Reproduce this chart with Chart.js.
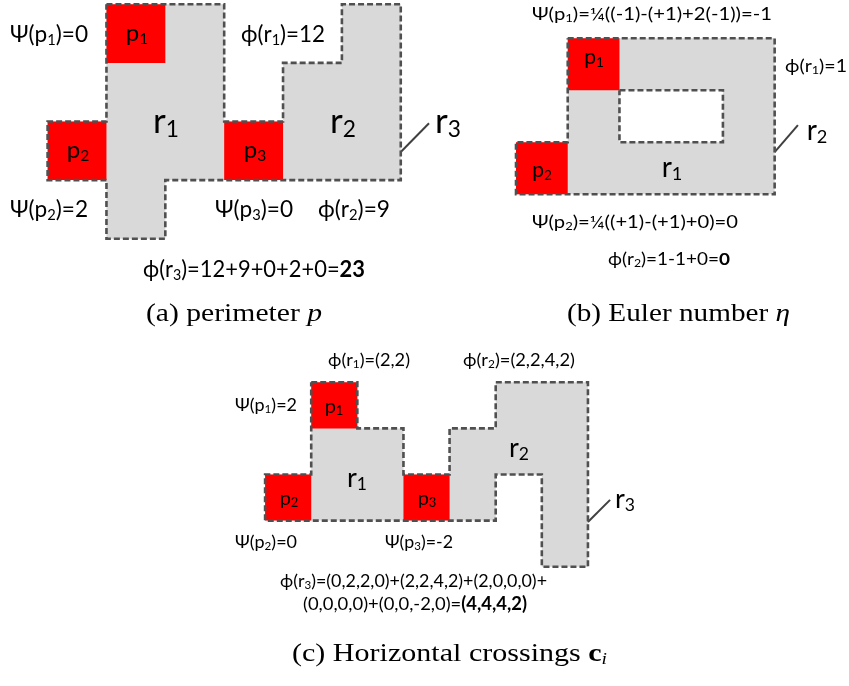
<!DOCTYPE html>
<html>
<head>
<meta charset="utf-8">
<script src="https://cdn.jsdelivr.net/npm/chart.js@4.4.1/dist/chart.umd.min.js"></script>
<style>
  html, body { margin: 0; padding: 0; background: #ffffff; }
  canvas { display: block; }
</style>
</head>
<body>
<canvas id="fig" width="849" height="686"></canvas>
<script>
// ---------------------------------------------------------------------------
// Regions, in grid cells (column, row) of each panel's pixel grid
// ---------------------------------------------------------------------------
// (a) perimeter
const regionA = [[1,0],[3,0],[3,2],[4,2],[4,1],[5,1],[5,0],[6,0],[6,3],[2,3],[2,4],[1,4],[1,3],[0,3],[0,2],[1,2],[1,0]];
const pixelsA = [[1,0],[0,2],[3,2]];          // top-left cell of p1, p2, p3
// (b) Euler number
const regionB = [[1,0],[5,0],[5,3],[0,3],[0,2],[1,2],[1,0]];
const holeB   = [[2,1],[4,1],[4,2],[2,2],[2,1]];
const pixelsB = [[1,0],[0,2]];
// (c) horizontal crossings
const regionC = [[1,0],[2,0],[2,1],[3,1],[3,2],[4,2],[4,1],[5,1],[5,0],[7,0],[7,4],[6,4],[6,2],[5,2],[5,3],[0,3],[0,2],[1,2],[1,0]];
const pixelsC = [[1,0],[0,2],[3,2]];

// ---------------------------------------------------------------------------
// Annotation text (markup: _{..} subscript, *{..} bold, ~{..} italic)
// ---------------------------------------------------------------------------
const notesA = ['Ψ(p_{1})=0', 'ϕ(r_{1})=12', 'Ψ(p_{2})=2', 'Ψ(p_{3})=0', 'ϕ(r_{2})=9', 'ϕ(r_{3})=12+9+0+2+0=*{23}'];
const notesB = ['Ψ(p_{1})=¼((-1)-(+1)+2(-1))=-1', 'ϕ(r_{1})=1', 'Ψ(p_{2})=¼((+1)-(+1)+0)=0', 'ϕ(r_{2})=1-1+0=*{0}'];
const notesC = ['ϕ(r_{1})=(2,2)', 'ϕ(r_{2})=(2,2,4,2)', 'Ψ(p_{1})=2', 'Ψ(p_{2})=0', 'Ψ(p_{3})=-2',
                'ϕ(r_{3})=(0,2,2,0)+(2,2,4,2)+(2,0,0,0)+', '(0,0,0,0)+(0,0,-2,0)=*{(4,4,4,2)}'];
const pixelNamesA  = ['p_{1}', 'p_{2}', 'p_{3}'];
const regionNamesA = ['r_{1}', 'r_{2}', 'r_{3}'];
const pixelNamesB  = ['p_{1}', 'p_{2}'];
const regionNamesB = ['r_{1}', 'r_{2}'];
const pixelNamesC  = ['p_{1}', 'p_{2}', 'p_{3}'];
const regionNamesC = ['r_{1}', 'r_{2}', 'r_{3}'];
const captions = ['(a) perimeter ~{p}', '(b) Euler number ~{η}', '(c) Horizontal crossings *{c}_{~{i}}'];

// ---------------------------------------------------------------------------
// Layout and style
// ---------------------------------------------------------------------------
const W = 849, H = 686;
const SANS  = 'Lato, "Open Sans", "DejaVu Sans", sans-serif';
const SERIF = '"Liberation Serif", "DejaVu Serif", serif';
const GRAY = '#d9d9d9', RED = '#ff0000', EDGE = '#505050', INK = '#000000';

// grid origin and cell size per panel, in page pixels
const grids = {
  a: { ox: 47.6,  oy: 4.3,   cw: 58.86, ch: 58.6 },
  b: { ox: 516.0, oy: 38.3,  cw: 51.73, ch: 52.0 },
  c: { ox: 265.1, oy: 382.3, cw: 46.12, ch: 46.1 }
};

// pointer strokes from the outer region's border to its label (grid cells)
const pointers = {
  a: [[6, 2.52], [6.48, 2.03]],
  b: [[5, 2.19], [5.45, 1.67]],
  c: [[7, 3.03], [7.48, 2.55]]
};

// text placement on the page: [left or centre x, baseline y, font px, width]
const notesPosA = [[10,42,23,78],[241,42,23,84],[10,217,23,78],[215,217,23,78],[318,217,23,72],[143,277,23,222]];
const notesPosB = [[532,20,17.5,240],[785,72,17.5,62],[532,228,17.5,206],[608,265,17.5,122]];
const notesPosC = [[328,366,18,82],[463,366,18,112],[235,411,18,62],[235,548,18,62],[385,548,18,68],[280,587,18,267],[303,610,18,224]];
const pNamePosA = [[137,41,24],[78,158,24],[255,158,24]];
const rNamePosA = [[166,133,35],[343,133,35],[448,133,35]];
const pNamePosB = [[594,64,21],[542,177,21]];
const rNamePosB = [[672,177,28],[817,140,28]];
const pNamePosC = [[334,413,20],[289,505,20],[427,505,20]];
const rNamePosC = [[357,487,27],[519,457,27],[625,508,27]];
const captionPos = [[146,321,26,176],[567,321,26,223],[292,661,26,315]];

// ---------------------------------------------------------------------------
// Datasets
// ---------------------------------------------------------------------------
const pts = list => list.map(([x, y]) => ({ x, y }));
const cell = ([c, r]) => pts([[c, r], [c + 1, r], [c + 1, r + 1], [c, r + 1], [c, r]]);

function panelSets(key, region, pixels, hole) {
  const axes = { xAxisID: 'x' + key, yAxisID: 'y' + key };
  const base = { showLine: true, pointRadius: 0, pointHoverRadius: 0, tension: 0, fill: false, ...axes };
  const sets = [];
  sets.push({ ...base, data: pts(region), areaColor: GRAY, borderColor: EDGE, borderWidth: 2.6, borderDash: [6, 3] });
  pixels.forEach(p => sets.push({ ...base, data: cell(p), areaColor: RED, showLine: false, borderWidth: 0 }));
  if (hole) sets.push({ ...base, data: pts(hole), areaColor: '#ffffff', borderColor: EDGE, borderWidth: 2.6, borderDash: [6, 3] });
  sets.push({ ...base, data: pts(pointers[key]), borderColor: '#404040', borderWidth: 2 });
  return sets;
}

const datasets = [
  ...panelSets('a', regionA, pixelsA),
  ...panelSets('b', regionB, pixelsB, holeB),
  ...panelSets('c', regionC, pixelsC)
];

// each panel's axes map its grid cells straight onto the page
function panelScales(key) {
  const g = grids[key];
  return {
    ['x' + key]: { type: 'linear', axis: 'x', position: 'bottom', display: false, min: -g.ox / g.cw, max: (W - g.ox) / g.cw },
    ['y' + key]: { type: 'linear', axis: 'y', position: 'left', display: false, reverse: true, min: -g.oy / g.ch, max: (H - g.oy) / g.ch }
  };
}

// ---------------------------------------------------------------------------
// Rich text
// ---------------------------------------------------------------------------
function parseRich(str) {
  const segs = [];
  const stack = [{ sub: false, bold: false, italic: false }];
  let buf = '';
  const cur = () => stack[stack.length - 1];
  const flush = () => { if (buf) { segs.push({ text: buf, ...cur() }); buf = ''; } };
  for (let i = 0; i < str.length; i++) {
    const ch = str[i], nx = str[i + 1];
    if ((ch === '_' || ch === '*' || ch === '~') && nx === '{') {
      flush();
      const s = { ...cur() };
      if (ch === '_') s.sub = true;
      if (ch === '*') s.bold = true;
      if (ch === '~') s.italic = true;
      stack.push(s); i++; continue;
    }
    if (ch === '}' && stack.length > 1) { flush(); stack.pop(); continue; }
    buf += ch;
  }
  flush();
  return segs;
}

function drawRich(ctx, str, x, y, size, family, width, align) {
  const segs = parseRich(str);
  const fontOf = s => `${s.italic ? 'italic ' : ''}${s.bold ? 'bold ' : ''}${s.sub ? size * 0.65 : size}px ${family}`;
  let total = 0;
  segs.forEach(s => { ctx.font = fontOf(s); s.w = ctx.measureText(s.text).width; total += s.w; });
  let sx = 1;
  if (width) sx = Math.max(0.75, Math.min(1.35, width / total));
  const left = align === 'center' ? x - total * sx / 2 : x;
  ctx.save();
  ctx.translate(left, y);
  ctx.scale(sx, 1);
  ctx.fillStyle = INK;
  ctx.textBaseline = 'alphabetic';
  ctx.textAlign = 'left';
  let off = 0;
  segs.forEach(s => {
    ctx.font = fontOf(s);
    ctx.fillText(s.text, off, s.sub ? size * 0.12 : 0);
    off += s.w;
  });
  ctx.restore();
}

// ---------------------------------------------------------------------------
// Plugins: filled areas under the outlines, and the text layer on top
// ---------------------------------------------------------------------------
const areaFill = {
  id: 'areaFill',
  beforeDatasetsDraw(chart) {
    const ctx = chart.ctx;
    chart.data.datasets.forEach((ds, i) => {
      if (!ds.areaColor) return;
      const meta = chart.getDatasetMeta(i);
      ctx.save();
      ctx.beginPath();
      meta.data.forEach((el, k) => k ? ctx.lineTo(el.x, el.y) : ctx.moveTo(el.x, el.y));
      ctx.closePath();
      ctx.fillStyle = ds.areaColor;
      ctx.fill();
      ctx.restore();
    });
  }
};

const textLayer = {
  id: 'textLayer',
  afterDatasetsDraw(chart) {
    const ctx = chart.ctx;
    const px = chart.scales.page_x, py = chart.scales.page_y;
    const put = (texts, pos, family, align) => texts.forEach((t, i) => {
      const [x, y, size, width] = pos[i];
      drawRich(ctx, t, px.getPixelForValue(x), py.getPixelForValue(y), size, family, width, align);
    });
    put(notesA, notesPosA, SANS, 'left');
    put(notesB, notesPosB, SANS, 'left');
    put(notesC, notesPosC, SANS, 'left');
    put(pixelNamesA, pNamePosA, SANS, 'center');
    put(regionNamesA, rNamePosA, SANS, 'center');
    put(pixelNamesB, pNamePosB, SANS, 'center');
    put(regionNamesB, rNamePosB, SANS, 'center');
    put(pixelNamesC, pNamePosC, SANS, 'center');
    put(regionNamesC, rNamePosC, SANS, 'center');
    put(captions, captionPos, SERIF, 'left');
  }
};

new Chart(document.getElementById('fig'), {
  type: 'scatter',
  data: { datasets },
  options: {
    responsive: false,
    devicePixelRatio: 1,
    animation: false,
    layout: { padding: 0 },
    plugins: { legend: { display: false }, tooltip: { enabled: false } },
    events: [],
    scales: {
      page_x: { type: 'linear', axis: 'x', position: 'bottom', display: false, min: 0, max: W },
      page_y: { type: 'linear', axis: 'y', position: 'left', display: false, reverse: true, min: 0, max: H },
      ...panelScales('a'),
      ...panelScales('b'),
      ...panelScales('c')
    }
  },
  plugins: [areaFill, textLayer]
});
</script>
</body>
</html>
